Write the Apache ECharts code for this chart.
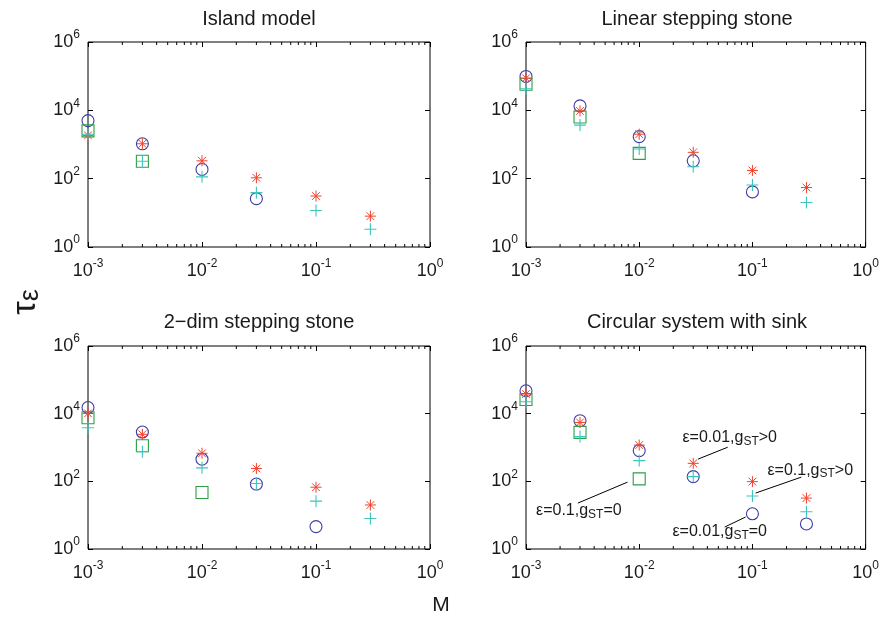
<!DOCTYPE html>
<html>
<head>
<meta charset="utf-8">
<script src="https://cdn.jsdelivr.net/npm/echarts@6/dist/echarts.min.js"></script>
<style>
  html, body { margin: 0; padding: 0; background: #fff; }
  #chart { width: 882px; height: 621px; }
</style>
</head>
<body>
<div id="chart"></div>
<script>
// Migration rate values shared by every panel
const M = [0.001, 0.003, 0.01, 0.03, 0.1, 0.3];

// Panel titles
const titles = ['Island model', 'Linear stepping stone', '2\u2212dim stepping stone', 'Circular system with sink'];

// Island model
const islandCircle = [5000, 1050, 186, 26];
const islandSquare = [2500, 325];
const islandStar = [1850, 1050, 333, 106, 31, 8];
const islandPlus = [2000, 325, 113, 39, 11.7, 3.3];

// Linear stepping stone
const linearCircle = [98000, 13500, 1700, 333, 41];
const linearSquare = [58000, 6400, 550];
const linearStar = [87000, 9600, 2000, 590, 174, 55];
const linearPlus = [43000, 3700, 740, 223, 65, 20];

// 2-dim stepping stone
const twoDimCircle = [15200, 2870, 450, 83, 4.6];
const twoDimSquare = [7600, 1130, 47];
const twoDimStar = [10200, 2450, 675, 240, 67, 20];
const twoDimPlus = [3850, 755, 250, 86, 26, 8];

// Circular system with sink
const circCircle = [47500, 6200, 810, 138, 11, 5.5];
const circSquare = [26300, 2800, 118];
const circStar = [38000, 5500, 1180, 340, 98, 32];
const circPlus = [22500, 2100, 410, 138, 37, 12.6];

// Tick values
const xMinorTicks = [0.002, 0.003, 0.004, 0.005, 0.006, 0.007, 0.008, 0.009,
                     0.02, 0.03, 0.04, 0.05, 0.06, 0.07, 0.08, 0.09,
                     0.2, 0.3, 0.4, 0.5, 0.6, 0.7, 0.8, 0.9];

// Annotations of the last panel: leader line start (x, y), end (x, y), text anchor (x, y)
const noteText = [['\u03b5=0.01,g', '>0'], ['\u03b5=0.1,g', '>0'], ['\u03b5=0.01,g', '=0'], ['\u03b5=0.1,g', '=0']];
const noteLineStart = [[0.033, 452], [0.1067, 45], [0.0569, 4.46], [0.00287, 22.7]];
const noteLineEnd = [[0.0605, 1020], [0.27, 133], [0.087, 8.8], [0.00788, 94.7]];
const noteAnchor = [[0.063, 2000], [0.324, 214], [0.0514, 3.2], [0.00293, 13.2]];

const panels = [
  [islandCircle, islandSquare, islandStar, islandPlus],
  [linearCircle, linearSquare, linearStar, linearPlus],
  [twoDimCircle, twoDimSquare, twoDimStar, twoDimPlus],
  [circCircle, circSquare, circStar, circPlus]
];

const FONT = '"Liberation Sans", Arial, Helvetica, sans-serif';
const INK = '#1a1a1a';
const COLORS = ['#3c3ca6', '#2f9e48', '#f0422c', '#3cc6be'];
const SYMBOLS = [
  'circle',
  'rect',
  'path://M0,-1L0,1M-1,0L1,0M-0.7,-0.7L0.7,0.7M-0.7,0.7L0.7,-0.7',
  'path://M0,-1L0,1M-1,0L1,0'
];
const SIZES = [12, 12, 11, 12];
const WIDTHS = [1.1, 1.1, 1, 1.1];

const grids = [
  { left: 88, top: 42, width: 342, height: 205 },
  { left: 526, top: 42, width: 342, height: 205 },
  { left: 88, top: 346, width: 342, height: 203 },
  { left: 526, top: 346, width: 342, height: 203 }
];

function powLabel(v) {
  const e = Math.round(Math.log10(v));
  return '{b|10}{s|' + e + '}';
}
const tickRich = {
  b: { fontSize: 18, fontFamily: FONT, color: INK },
  s: { fontSize: 12, fontFamily: FONT, color: INK, padding: [0, 0, 14, 0] }
};

const xAxes = [], yAxes = [], series = [];
grids.forEach((g, gi) => {
  xAxes.push({
    type: 'log', logBase: 10, gridIndex: gi, min: 0.001, max: 1, position: 'bottom',
    axisLine: { show: false },
    axisTick: { show: true, inside: true, length: 5, lineStyle: { color: '#000' } },
    axisLabel: { show: true, margin: 11, formatter: powLabel, rich: tickRich, showMinLabel: true, showMaxLabel: true },
    splitLine: { show: false }
  });
  xAxes.push({
    type: 'log', logBase: 10, gridIndex: gi, min: 0.001, max: 1, position: 'top',
    axisLine: { show: false },
    axisTick: { show: true, inside: true, length: 5, lineStyle: { color: '#000' } },
    axisLabel: { show: false }, splitLine: { show: false }
  });
  yAxes.push({
    type: 'log', logBase: 10, gridIndex: gi, min: 1, max: 1000000, interval: 2, position: 'left',
    axisLine: { show: false },
    axisTick: { show: true, inside: true, length: 5, lineStyle: { color: '#000' } },
    axisLabel: { show: true, margin: 8, formatter: powLabel, rich: tickRich, showMinLabel: true, showMaxLabel: true },
    splitLine: { show: false }
  });
  yAxes.push({
    type: 'log', logBase: 10, gridIndex: gi, min: 1, max: 1000000, interval: 2, position: 'right',
    axisLine: { show: false },
    axisTick: { show: true, inside: true, length: 5, lineStyle: { color: '#000' } },
    axisLabel: { show: false }, splitLine: { show: false }
  });

  // minor log ticks along the bottom and top edges
  series.push({
    type: 'custom', xAxisIndex: gi * 2, yAxisIndex: gi * 2, silent: true, z: 1,
    data: xMinorTicks.map(v => [v, 1]),
    renderItem: function (params, api) {
      const x = api.value(0);
      const b = api.coord([x, 1]);
      const t = api.coord([x, 1000000]);
      return {
        type: 'group', children: [
          { type: 'line', shape: { x1: b[0], y1: b[1], x2: b[0], y2: b[1] - 3 }, style: { stroke: '#000', lineWidth: 1 } },
          { type: 'line', shape: { x1: t[0], y1: t[1], x2: t[0], y2: t[1] + 3 }, style: { stroke: '#000', lineWidth: 1 } }
        ]
      };
    }
  });

  panels[gi].forEach((vals, si) => {
    series.push({
      type: 'scatter', xAxisIndex: gi * 2, yAxisIndex: gi * 2, z: 3 + si,
      symbol: SYMBOLS[si], symbolSize: SIZES[si],
      itemStyle: { color: 'rgba(0,0,0,0)', borderColor: COLORS[si], borderWidth: WIDTHS[si], opacity: 1 },
      emphasis: { disabled: true },
      data: vals.map((v, i) => [M[i], v])
    });
  });
});

// leader lines and labels in the last panel
series.push({
  type: 'custom', xAxisIndex: 6, yAxisIndex: 6, silent: true, z: 10,
  data: noteText.map((t, i) => [noteLineStart[i][0], noteLineStart[i][1], noteLineEnd[i][0], noteLineEnd[i][1], noteAnchor[i][0], noteAnchor[i][1], i]),
  renderItem: function (params, api) {
    const i = api.value(6);
    const p1 = api.coord([api.value(0), api.value(1)]);
    const p2 = api.coord([api.value(2), api.value(3)]);
    const pt = api.coord([api.value(4), api.value(5)]);
    return {
      type: 'group', children: [
        { type: 'line', shape: { x1: p1[0], y1: p1[1], x2: p2[0], y2: p2[1] }, style: { stroke: '#000', lineWidth: 1 } },
        {
          type: 'text', x: pt[0], y: pt[1],
          style: {
            text: '{a|' + noteText[i][0] + '}{s|ST}{a|' + noteText[i][1] + '}',
            align: 'center', verticalAlign: 'middle',
            rich: {
              a: { fontSize: 16, fontFamily: FONT, fill: INK, color: INK },
              s: { fontSize: 12, fontFamily: FONT, fill: INK, color: INK, padding: [8, 0, 0, 0] }
            }
          }
        }
      ]
    };
  }
});

const graphics = [];
const titlePos = [[259, 19], [697, 19], [259, 322], [697, 322]];
titles.forEach((t, i) => {
  graphics.push({
    type: 'text', x: titlePos[i][0], y: titlePos[i][1],
    style: { text: t, font: '20px ' + FONT, fill: INK, align: 'center', verticalAlign: 'middle' }
  });
});
graphics.push({
  type: 'text', x: 441, y: 605,
  style: { text: 'M', font: '21px ' + FONT, fill: INK, align: 'center', verticalAlign: 'middle' }
});
graphics.push({
  type: 'text', x: 26, y: 302, rotation: Math.PI / 2,
  style: {
    text: '{t|\u03c4}{e|\u03b5}', align: 'center', verticalAlign: 'middle',
    rich: {
      t: { fontSize: 34, fontFamily: FONT, fill: INK, color: INK },
      e: { fontSize: 27, fontFamily: FONT, fill: INK, color: INK, padding: [10, 0, 0, 0] }
    }
  }
});

const chart = echarts.init(document.getElementById('chart'), null, { renderer: 'canvas' });
chart.setOption({
  backgroundColor: '#fff',
  animation: false,
  grid: grids.map(g => Object.assign({ show: true, borderColor: '#000', borderWidth: 1, backgroundColor: 'rgba(0,0,0,0)' }, g)),
  xAxis: xAxes,
  yAxis: yAxes,
  series: series,
  graphic: graphics
});
</script>
</body>
</html>
